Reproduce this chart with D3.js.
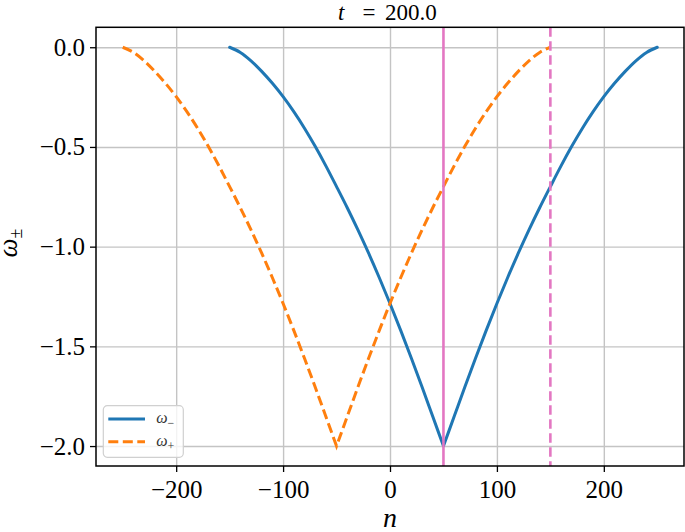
<!DOCTYPE html>
<html>
<head>
<meta charset="utf-8">
<script src="https://cdn.jsdelivr.net/npm/d3@7"></script>
<style>
    body { margin: 0; background: #fff; }
    svg text { font-family: 'Liberation Serif', 'Times New Roman', serif !important; }
</style>
</head>
<body>
<div id="chart"></div>
<script>
// omega_- : n and value
const nMinus = [-150, -140, -130, -120, -110, -100, -90, -80, -70, -60, -50, -40, -30, -20, -10,
    0, 10, 20, 30, 40, 50, 60, 70, 80, 90, 100, 110, 120, 130, 140, 150, 160, 170, 180, 190,
    200, 210, 220, 230, 240, 250];
const omegaMinus = [0, -0.026, -0.068, -0.121, -0.181, -0.248, -0.323, -0.406, -0.497, -0.595,
    -0.699, -0.805, -0.916, -1.033, -1.156, -1.285, -1.42, -1.56, -1.704, -1.852, -2.0, -1.852,
    -1.704, -1.56, -1.42, -1.285, -1.156, -1.033, -0.916, -0.805, -0.699, -0.595, -0.497, -0.406,
    -0.323, -0.248, -0.181, -0.121, -0.068, -0.026, 0];

// omega_+ : n and value
const nPlus = [-250, -240, -230, -220, -210, -200, -190, -180, -170, -160, -150, -140, -130, -120,
    -110, -100, -90, -80, -70, -60, -50, -40, -30, -20, -10, 0, 10, 20, 30, 40, 50, 60, 70, 80, 90,
    100, 110, 120, 130, 140, 150];
const omegaPlus = [0, -0.026, -0.068, -0.121, -0.181, -0.248, -0.323, -0.406, -0.497, -0.595,
    -0.699, -0.805, -0.916, -1.033, -1.156, -1.285, -1.42, -1.56, -1.704, -1.852, -2.0, -1.852,
    -1.704, -1.56, -1.42, -1.285, -1.156, -1.033, -0.916, -0.805, -0.699, -0.595, -0.497, -0.406,
    -0.323, -0.248, -0.181, -0.121, -0.068, -0.026, 0];

const xTicks = [-200, -100, 0, 100, 200];
const yTicks = [0, -0.5, -1.0, -1.5, -2.0];
const solidMark = 50;   // solid vertical line
const dashedMark = 150; // dashed vertical line
const titleValue = '200.0';

const W = 685, H = 532;
const margin = { top: 27.3, right: 1, bottom: 66, left: 96 };
const width = W - margin.left - margin.right;
const height = H - margin.top - margin.bottom;

const x = d3.scaleLinear().domain([-275, 275]).range([0, width]);
const y = d3.scaleLinear().domain([-2.1, 0.1]).range([height, 0]);

const svg = d3.select('#chart')
    .append('svg')
    .attr('width', W)
    .attr('height', H)
    .append('g')
    .attr('transform', `translate(${margin.left}, ${margin.top})`);

// grid
svg.append('g')
    .attr('class', 'grid')
    .attr('transform', `translate(0, ${height})`)
    .call(d3.axisBottom(x).tickValues(xTicks).tickSize(-height).tickFormat(''))
    .call(g => g.select('.domain').remove());
svg.append('g')
    .attr('class', 'grid')
    .call(d3.axisLeft(y).tickValues(yTicks).tickSize(-width).tickFormat(''))
    .call(g => g.select('.domain').remove());
svg.selectAll('.grid line').attr('stroke', '#c4c4c4').attr('stroke-width', 1.4);

// smooth each side of the cusp separately, joined into one path
function cuspPath(data) {
    const k = d3.minIndex(data, d => d[1]);
    const half = d3.line().x(d => x(d[0])).y(d => y(d[1])).curve(d3.curveMonotoneX);
    const left = half(data.slice(0, k + 1));
    const right = half(data.slice(k)).replace(/^M/, 'L');
    return left + right;
}

const minusData = nMinus.map((n, i) => [n, omegaMinus[i]]);
const plusData = nPlus.map((n, i) => [n, omegaPlus[i]]);

svg.append('path')
    .attr('fill', 'none')
    .attr('stroke', '#1f77b4')
    .attr('stroke-width', 3)
    .attr('stroke-linejoin', 'round')
    .attr('stroke-linecap', 'round')
    .attr('d', cuspPath(minusData));

svg.append('path')
    .attr('fill', 'none')
    .attr('stroke', '#ff7f0e')
    .attr('stroke-width', 3)
    .attr('stroke-dasharray', '10,4.5')
    .attr('d', cuspPath(plusData));

// vertical markers
svg.append('line')
    .attr('x1', x(solidMark)).attr('x2', x(solidMark))
    .attr('y1', 0).attr('y2', height)
    .attr('stroke', '#e377c2')
    .attr('stroke-width', 2.6);
svg.append('line')
    .attr('x1', x(dashedMark)).attr('x2', x(dashedMark))
    .attr('y1', 0).attr('y2', height)
    .attr('stroke', '#e377c2')
    .attr('stroke-width', 2.6)
    .attr('stroke-dasharray', '9.5,4.5');

// axes
const xAxis = svg.append('g')
    .attr('transform', `translate(0, ${height})`)
    .call(d3.axisBottom(x).tickValues(xTicks).tickSize(6).tickPadding(8).tickFormat(d3.format('d')));
const yAxis = svg.append('g')
    .call(d3.axisLeft(y).tickValues(yTicks).tickSize(6).tickPadding(5).tickFormat(d3.format('.1f')));
[xAxis, yAxis].forEach(a => {
    a.attr('font-family', null).attr('font-size', null);
    a.select('.domain').remove();
    a.selectAll('.tick line').attr('stroke', '#000').attr('stroke-width', 1.3);
    a.selectAll('.tick text')
        .style('font-size', '25px')
        .attr('fill', '#000');
});

// frame
svg.append('rect')
    .attr('width', width)
    .attr('height', height)
    .attr('fill', 'none')
    .attr('stroke', '#000')
    .attr('stroke-width', 1.5);

// title: t = 200.0
const title = svg.append('g')
    .attr('transform', `translate(0, ${20 - margin.top})`)
    .style('font-size', '23px');
title.append('text').attr('x', 338 - margin.left).style('font-style', 'italic').text('t');
title.append('text').attr('x', 369 - margin.left).attr('text-anchor', 'middle').text('=');
title.append('text').attr('x', 385 - margin.left).text(titleValue);

// x label
svg.append('text')
    .attr('x', x(0))
    .attr('y', 527 - margin.top)
    .attr('text-anchor', 'middle')
    .style('font-size', '28px')
    .style('font-style', 'italic')
    .text('n');

// y label
const yl = svg.append('text')
    .attr('transform', `translate(${17 - margin.left}, ${243 - margin.top}) rotate(-90)`)
    .attr('text-anchor', 'middle')
    .style('font-size', '27px');
yl.append('tspan').style('font-style', 'italic').text('ω');
yl.append('tspan').attr('baseline-shift', '-25%').style('font-size', '18px').text('±');

// legend
const legend = svg.append('g')
    .attr('transform', `translate(${7.3}, ${378.4})`);
legend.append('rect')
    .attr('width', 80)
    .attr('height', 51.6)
    .attr('rx', 4)
    .attr('fill', 'rgba(255,255,255,0.8)')
    .attr('stroke', '#d0d0d0')
    .attr('stroke-width', 1.2);

const legendItems = [
    { label: '−', color: '#1f77b4', dash: null },
    { label: '+', color: '#ff7f0e', dash: '10,4.5' }
];
legendItems.forEach((item, i) => {
    const yy = 13.3 + i * 22.7;
    legend.append('line')
        .attr('x1', 5).attr('x2', 41.7)
        .attr('y1', yy).attr('y2', yy)
        .attr('stroke', item.color)
        .attr('stroke-width', 3)
        .attr('stroke-dasharray', item.dash);
    const t = legend.append('text')
        .attr('x', 53)
        .attr('y', yy + 4)
        .style('font-size', '16px')
        .attr('fill', '#333');
    t.append('tspan').style('font-style', 'italic').text('ω');
    t.append('tspan').attr('baseline-shift', '-30%').style('font-size', '12px').text(item.label);
});
</script>
</body>
</html>
